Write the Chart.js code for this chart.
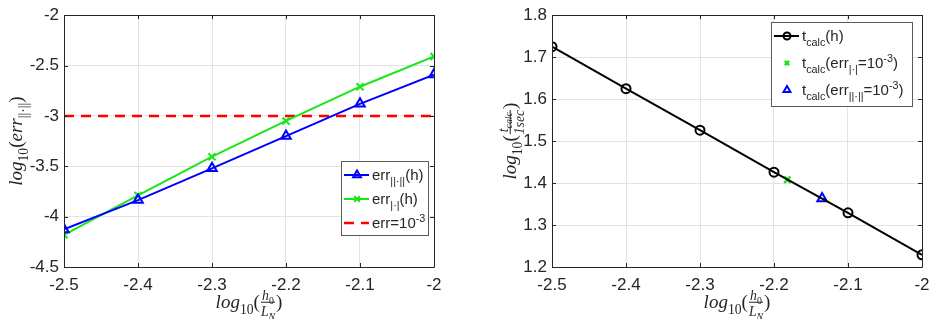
<!DOCTYPE html>
<html>
<head>
<meta charset="utf-8">
<script src="https://cdn.jsdelivr.net/npm/chart.js@4/dist/chart.umd.min.js"></script>
<style>
  html, body { margin: 0; padding: 0; background: #fff; }
  #wrap { display: flex; width: 940px; height: 319px; }
  canvas { display: block; }
</style>
</head>
<body>
<div id="wrap">
  <canvas id="left" width="470" height="319"></canvas>
  <canvas id="right" width="470" height="319"></canvas>
</div>
<script>
// values
const hLog = [-2.5, -2.4, -2.3, -2.2, -2.1, -2.0];
const errNormH = [-4.127, -3.836, -3.52, -3.20, -2.88, -2.59];
const errAbsH = [-4.18, -3.79, -3.405, -3.05, -2.71, -2.41];
const errLimit = -3;
const tCalcH = [1.725, 1.625, 1.526, 1.426, 1.329, 1.229];
const tCalcAbsAt = {x: -2.182, y: 1.408};
const tCalcNormAt = {x: -2.135, y: 1.363};

const SANS = '"Liberation Sans", Arial, sans-serif';
const SERIF = '"Liberation Serif", "Times New Roman", serif';
const INK = '#262626';

// rich text: parts with sub / sup / italic / fraction
function partsWidth(ctx, parts, size, fam) {
  let w = 0;
  for (const p of parts) {
    if (p.frac) {
      w += Math.max(partsWidth(ctx, p.frac[0], size * 0.72, fam), partsWidth(ctx, p.frac[1], size * 0.72, fam)) + 2;
      continue;
    }
    const s = (p.sub || p.sup) ? size * 0.72 : size;
    ctx.font = (p.it ? 'italic ' : '') + s + 'px ' + fam;
    w += ctx.measureText(p.t).width;
  }
  return w;
}

function drawParts(ctx, parts, x, y, size, fam) {
  let cx = x;
  for (const p of parts) {
    if (p.frac) {
      const s = size * 0.72;
      const wn = partsWidth(ctx, p.frac[0], s, fam);
      const wd = partsWidth(ctx, p.frac[1], s, fam);
      const w = Math.max(wn, wd);
      drawParts(ctx, p.frac[0], cx + 1 + (w - wn) / 2, y - size * 0.42, s, fam);
      drawParts(ctx, p.frac[1], cx + 1 + (w - wd) / 2, y + size * 0.42, s, fam);
      ctx.fillRect(cx + 1, y - size * 0.33, w, 1);
      cx += w + 2;
      continue;
    }
    const s = (p.sub || p.sup) ? size * 0.72 : size;
    const dy = p.sub ? size * 0.3 : p.sup ? -size * 0.42 : 0;
    ctx.font = (p.it ? 'italic ' : '') + s + 'px ' + fam;
    ctx.fillText(p.t, cx, y + dy);
    cx += ctx.measureText(p.t).width;
  }
  return cx - x;
}

const xTitle = [{t: 'log', it: true}, {t: '10', sub: true}, {t: '('},
  {frac: [[{t: 'h', it: true}, {t: '0', sub: true}], [{t: 'L', it: true}, {t: 'N', it: true, sub: true}]]}, {t: ')'}];

// box, inward ticks, axis titles, legend
const matlabLook = {
  id: 'matlabLook',
  afterDatasetsDraw(chart, args, opts) {
    const ctx = chart.ctx;
    const a = chart.chartArea;
    const xs = chart.scales.x, ys = chart.scales.y;
    ctx.save();
    ctx.strokeStyle = INK;
    ctx.lineWidth = 1;
    ctx.beginPath();
    ctx.rect(Math.round(a.left) + 0.5, Math.round(a.top) + 0.5, Math.round(a.right - a.left), Math.round(a.bottom - a.top));
    xs.ticks.forEach(t => {
      const px = Math.round(xs.getPixelForValue(t.value)) + 0.5;
      ctx.moveTo(px, a.bottom); ctx.lineTo(px, a.bottom - 4);
      ctx.moveTo(px, a.top); ctx.lineTo(px, a.top + 4);
    });
    ys.ticks.forEach(t => {
      const py = Math.round(ys.getPixelForValue(t.value)) + 0.5;
      ctx.moveTo(a.left, py); ctx.lineTo(a.left + 4, py);
      ctx.moveTo(a.right, py); ctx.lineTo(a.right - 4, py);
    });
    ctx.stroke();

    // axis titles
    ctx.fillStyle = INK;
    ctx.textBaseline = 'alphabetic';
    const tw = partsWidth(ctx, xTitle, 19, SERIF);
    drawParts(ctx, xTitle, (a.left + a.right) / 2 - tw / 2, 308, 19, SERIF);
    const yw = partsWidth(ctx, opts.yTitle, 19, SERIF);
    ctx.save();
    ctx.translate(opts.yTitleX, (a.top + a.bottom) / 2);
    ctx.rotate(-Math.PI / 2);
    drawParts(ctx, opts.yTitle, -yw / 2, 0, 19, SERIF);
    ctx.restore();

    // legend
    const L = opts.legend;
    ctx.fillStyle = '#fff';
    ctx.fillRect(L.x, L.y, L.w, L.h);
    ctx.strokeStyle = '#5a5a5a';
    ctx.strokeRect(L.x + 0.5, L.y + 0.5, L.w, L.h);
    L.rows.forEach((r, i) => {
      const cy = L.y + L.first + i * L.gap;
      const ds = chart.data.datasets[r.ds];
      ctx.strokeStyle = ds.borderColor;
      ctx.lineWidth = ds.borderWidth;
      if (r.line) {
        ctx.setLineDash(ds.borderDash || []);
        ctx.beginPath();
        ctx.moveTo(L.x + 3, cy); ctx.lineTo(L.x + 28, cy);
        ctx.stroke();
        ctx.setLineDash([]);
      }
      if (ds.pointStyle && ds.pointRadius > 0) {
        ctx.fillStyle = 'rgba(0,0,0,0)';
        ctx.lineWidth = ds.pointBorderWidth || ds.borderWidth;
        Chart.helpers.drawPoint(ctx, {
          pointStyle: ds.pointStyle, radius: r.line ? ds.pointRadius - 1 : ds.pointRadius - 1.5, borderWidth: ds.pointBorderWidth || ds.borderWidth, rotation: 0
        }, L.x + 16, cy);
      }
      ctx.fillStyle = INK;
      drawParts(ctx, r.text, L.x + L.textX, cy + 5, 15, SANS);
    });
    ctx.restore();
  }
};

function tickText(v) { return String(+v.toFixed(2)); }

function makeScales(yMin, yMax, yStep, leftW, bottom) {
  const grid = {color: '#e3e3e3', drawTicks: false};
  return {
    x: {
      type: 'linear', min: -2.5, max: -2, grid, border: {display: false},
      ticks: {stepSize: 0.1, color: INK, font: {family: SANS, size: 17}, padding: 8, callback: tickText, maxRotation: 0},
      afterFit: s => { s.height = 319 - bottom; }
    },
    y: {
      type: 'linear', min: yMin, max: yMax, grid, border: {display: false},
      ticks: {stepSize: yStep, color: INK, font: {family: SANS, size: 17}, padding: 5, callback: tickText},
      afterFit: s => { s.width = leftW; }
    }
  };
}

const pts = ys => hLog.map((x, i) => ({x, y: ys[i]}));

new Chart(document.getElementById('left'), {
  type: 'line',
  data: {
    datasets: [
      {label: 'err||·||(h)', data: pts(errNormH), borderColor: '#0000ff', borderWidth: 2,
        pointStyle: 'triangle', pointRadius: 5.5, pointBorderWidth: 2, pointBackgroundColor: 'rgba(0,0,0,0)'},
      {label: 'err|·|(h)', data: pts(errAbsH), borderColor: '#19e619', borderWidth: 2,
        pointStyle: 'crossRot', pointRadius: 5, pointBorderWidth: 2},
      {label: 'err=1e-3', data: [{x: -2.5, y: errLimit}, {x: -2, y: errLimit}], borderColor: '#ff0000', borderWidth: 2.5,
        borderDash: [10, 7], pointRadius: 0, pointStyle: false}
    ]
  },
  options: {
    responsive: false, animation: false,
    layout: {padding: {top: 12, right: 36, left: 0, bottom: 0}},
    scales: makeScales(-4.5, -2, 0.5, 64, 267),
    plugins: {
      legend: {display: false}, tooltip: {enabled: false},
      matlabLook: {
        yTitleX: 22,
        yTitle: [{t: 'log', it: true}, {t: '10', sub: true}, {t: '('}, {t: 'err', it: true}, {t: '||·||', sub: true}, {t: ')'}],
        legend: {x: 341, y: 161, w: 87, h: 74, first: 14, gap: 24, textX: 31, rows: [
          {ds: 0, line: true, text: [{t: 'err'}, {t: '||·||', sub: true}, {t: '(h)'}]},
          {ds: 1, line: true, text: [{t: 'err'}, {t: '|·|', sub: true}, {t: '(h)'}]},
          {ds: 2, line: true, text: [{t: 'err=10'}, {t: '-3', sup: true}]}
        ]}
      }
    }
  },
  plugins: [matlabLook]
});

new Chart(document.getElementById('right'), {
  type: 'line',
  data: {
    datasets: [
      {label: 'tcalc(h)', data: pts(tCalcH), borderColor: '#000000', borderWidth: 2,
        pointStyle: 'circle', pointRadius: 4.5, pointBorderWidth: 2, pointBackgroundColor: 'rgba(0,0,0,0)'},
      {label: 'tcalc(err|·|)', data: [tCalcAbsAt], borderColor: '#19e619', borderWidth: 2, showLine: false,
        pointStyle: 'crossRot', pointRadius: 4.5, pointBorderWidth: 2.5},
      {label: 'tcalc(err||·||)', data: [tCalcNormAt], borderColor: '#0000ff', borderWidth: 2, showLine: false,
        pointStyle: 'triangle', pointRadius: 5.5, pointBorderWidth: 2, pointBackgroundColor: 'rgba(0,0,0,0)'}
    ]
  },
  options: {
    responsive: false, animation: false,
    layout: {padding: {top: 12, right: 18, left: 0, bottom: 0}},
    scales: makeScales(1.2, 1.8, 0.1, 82, 267),
    plugins: {
      legend: {display: false}, tooltip: {enabled: false},
      matlabLook: {
        yTitleX: 46,
        yTitle: [{t: 'log', it: true}, {t: '10', sub: true}, {t: '('},
          {frac: [[{t: 't', it: true}, {t: 'calc', it: true, sub: true}], [{t: '1sec', it: true}]]}, {t: ')'}],
        legend: {x: 301, y: 22, w: 141, h: 84, first: 14, gap: 27, textX: 31, rows: [
          {ds: 0, line: true, text: [{t: 't'}, {t: 'calc', sub: true}, {t: '(h)'}]},
          {ds: 1, line: false, text: [{t: 't'}, {t: 'calc', sub: true}, {t: '(err'}, {t: '|·|', sub: true}, {t: '=10'}, {t: '-3', sup: true}, {t: ')'}]},
          {ds: 2, line: false, text: [{t: 't'}, {t: 'calc', sub: true}, {t: '(err'}, {t: '||·||', sub: true}, {t: '=10'}, {t: '-3', sup: true}, {t: ')'}]}
        ]}
      }
    }
  },
  plugins: [matlabLook]
});
</script>
</body>
</html>
